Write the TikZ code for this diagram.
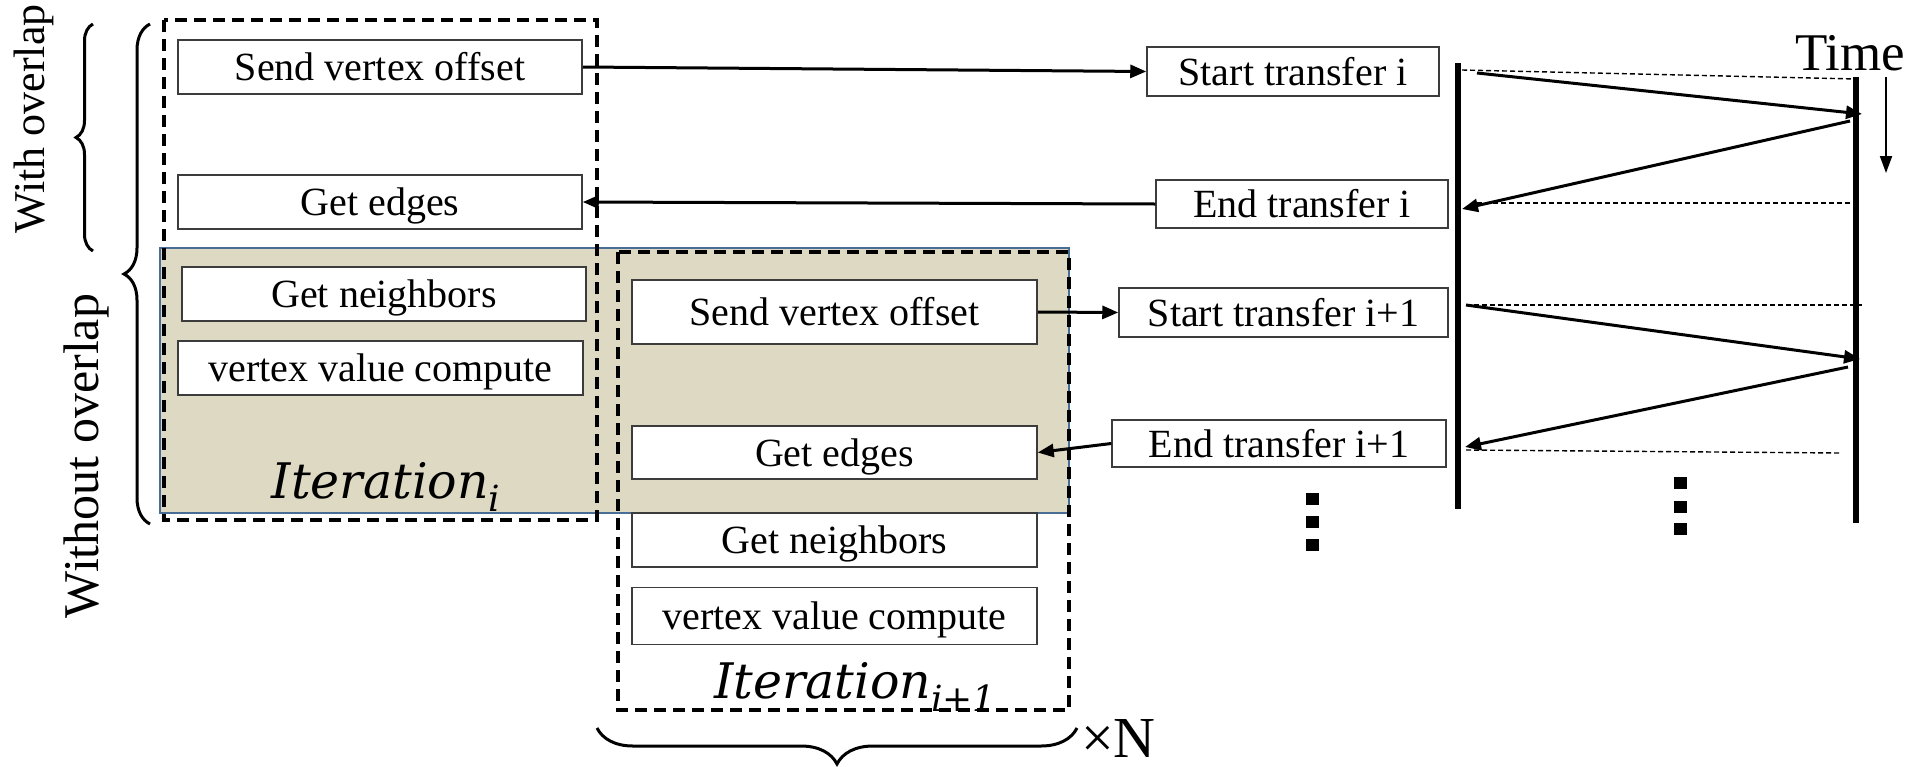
\documentclass[tikz,border=0pt]{standalone}
\usepackage{fontspec}
\setmainfont{Liberation Serif}
\newfontfamily\iterfont{DejaVu Serif}
\usetikzlibrary{arrows.meta,decorations.pathreplacing}

\definecolor{shade}{RGB}{221,217,195}
\definecolor{shadeedge}{RGB}{72,110,150}
\definecolor{boxedge}{RGB}{60,60,60}

% italic label with a lowered subscript
\newcommand{\iterlabel}[1]{{\iterfont\itshape Iteration\raisebox{-0.27em}{\fontsize{36}{40}\selectfont #1}}}

\begin{document}
\begin{tikzpicture}[x=1pt,y=-1pt,
  task/.style={draw=boxedge, line width=1.5pt, fill=white, inner sep=0pt,
    text height=35pt, text depth=8pt,
    font=\fontsize{40}{48}\selectfont},
  iterbox/.style={draw=black, line width=3.2pt, dash pattern=on 12pt off 7pt},
  conn/.style={line width=3pt, -{Triangle[length=16pt,width=13pt]}},
  lifeline/.style={line width=5.2pt},
  guide/.style={line width=1.4pt, dash pattern=on 5pt off 3pt},
  bracebar/.style={line width=3pt, decorate},
  dot/.style={fill=black},
]
\useasboundingbox (0,0) rectangle (1921,766);

% shaded overlap region
\draw[fill=shade, draw=shadeedge, line width=2.2pt] (160,248) rectangle (1069,513);

% iteration frames
\draw[iterbox] (164,20) rectangle (597,520);
\draw[iterbox] (618,252) rectangle (1069,710);

% iteration i steps
\node[task, minimum width=404, minimum height=54] (sv1) at (380,67) {Send vertex offset};
\node[task, minimum width=404, minimum height=54] (ge1) at (380,202) {Get edges};
\node[task, minimum width=404, minimum height=54] (gn1) at (384,294) {Get neighbors};
\node[task, minimum width=405, minimum height=54] (vc1) at (380.5,368) {vertex value compute};
\node[font=\fontsize{49}{56}\selectfont, anchor=base] (it1) at (386,498) {\iterlabel{i}};

% iteration i+1 steps
\node[task, minimum width=405, minimum height=64] (sv2) at (834.5,312) {Send vertex offset};
\node[task, minimum width=405, minimum height=53] (ge2) at (834.5,452.5) {Get edges};
\node[task, minimum width=405, minimum height=54] (gn2) at (834.5,540) {Get neighbors};
\node[task, minimum width=405, minimum height=57] (vc2) at (834.5,616) {vertex value compute};
\node[font=\fontsize{49}{56}\selectfont, anchor=base] (it2) at (855,698) {\iterlabel{i+1}};

% transfer events
\node[task, minimum width=292, minimum height=49] (st1) at (1293,71.5) {Start transfer i};
\node[task, minimum width=292, minimum height=48] (et1) at (1302,204) {End transfer i};
\node[task, minimum width=329, minimum height=49] (st2) at (1283.5,312.5) {Start transfer i+1};
\node[task, minimum width=334, minimum height=47] (et2) at (1279,443.5) {End transfer i+1};

% requests and replies
\draw[conn] (sv1.east) -- (st1.west);
\draw[conn] (et1.west) -- (ge1.east);
\draw[conn] (sv2.east) -- (st2.west);
\draw[conn] (et2.west) -- (ge2.east);

% lifelines
\coordinate (hTop) at (1458,63);
\coordinate (hBot) at (1458,509);
\coordinate (dTop) at (1856,77);
\coordinate (dBot) at (1856,523);
\draw[lifeline] (hTop) -- (hBot);
\draw[lifeline] (dTop) -- (dBot);

% message exchange
\coordinate (m1s) at (1477,73);
\coordinate (m1e) at (1862,114);
\coordinate (m2s) at (1850,121);
\coordinate (m2e) at (1462,209);
\coordinate (m3s) at (1466,305);
\coordinate (m3e) at (1860,359);
\coordinate (m4s) at (1848,367);
\coordinate (m4e) at (1465,447);
\draw[conn] (m1s) -- (m1e);
\draw[conn] (m2s) -- (m2e);
\draw[conn] (m3s) -- (m3e);
\draw[conn] (m4s) -- (m4e);

% time markers
\coordinate (g1s) at (1462,70);
\coordinate (g1e) at (1856,79);
\coordinate (g2s) at (1477,203);
\coordinate (g2e) at (1850,203);
\coordinate (g3s) at (1466,305);
\coordinate (g3e) at (1862,305);
\coordinate (g4s) at (1466,450);
\coordinate (g4e) at (1839,453);
\draw[guide] (g1s) -- (g1e);
\draw[guide] (g2s) -- (g2e);
\draw[guide] (g3s) -- (g3e);
\draw[guide] (g4s) -- (g4e);

% time axis
\node[font=\fontsize{53}{60}\selectfont, anchor=base] (time) at (1850,70) {Time};
\coordinate (tA) at (1886,77);
\coordinate (tB) at (1886,173);
\draw[line width=2pt, -{Triangle[length=17pt,width=12pt]}] (tA) -- (tB);

% continuation dots
\foreach \y in {493,516,539} \fill[dot] (1306,\y) rectangle ++(13,12);
\foreach \y in {477,501,523} \fill[dot] (1674,\y) rectangle ++(13,12);

% braces and labels
\draw[bracebar, decoration={brace, amplitude=17pt}] (93,251) -- (93,24);
\draw[bracebar, decoration={brace, amplitude=26pt}] (150,524) -- (150,24);
\draw[bracebar, decoration={brace, amplitude=36pt}] (1077,728) -- (597,728);

\node[font=\fontsize{44}{50}\selectfont, rotate=90] (wo) at (34,119) {With overlap};
\node[font=\fontsize{50}{56}\selectfont, rotate=90] (wno) at (86,456) {Without overlap};
\node[font=\fontsize{58}{64}\selectfont, anchor=base west, inner sep=0pt] (xn) at (1081,757) {×N};
\end{tikzpicture}
\end{document}
